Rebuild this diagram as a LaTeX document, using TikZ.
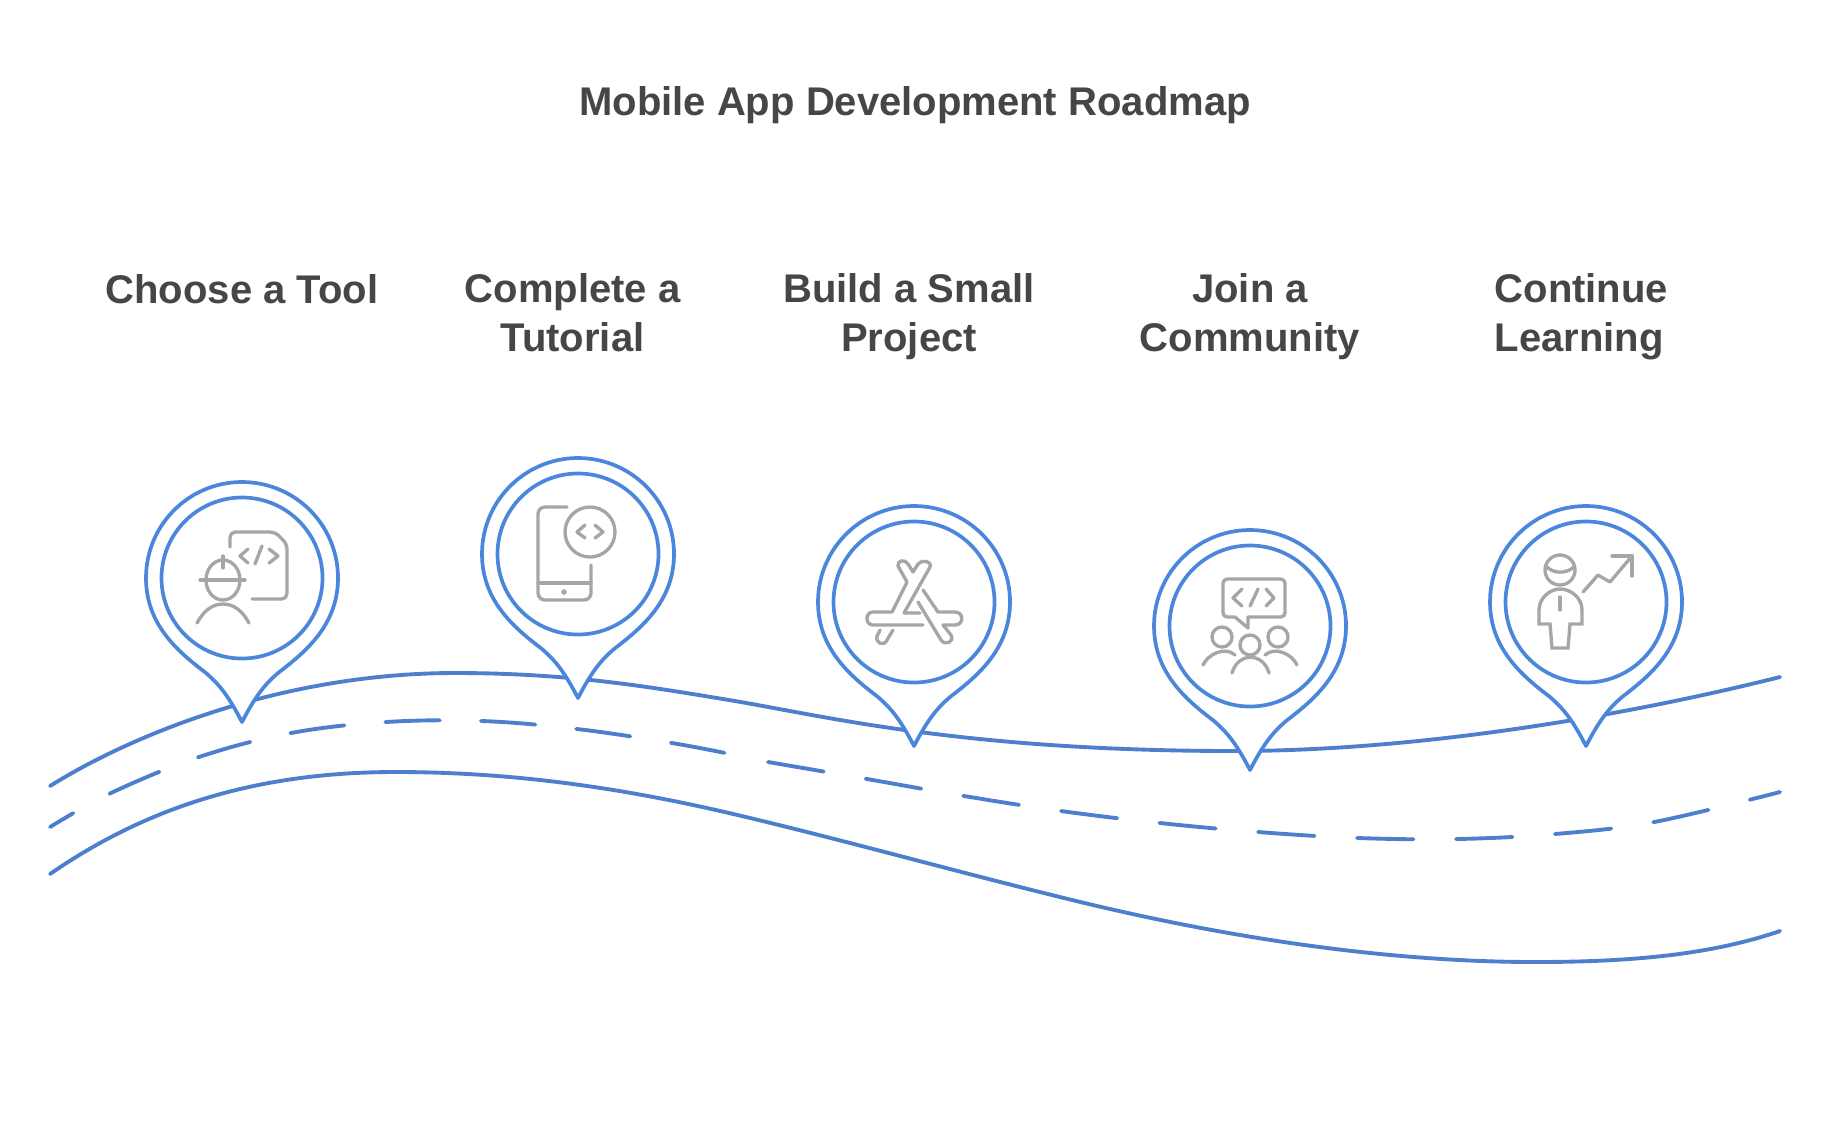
\documentclass[tikz,border=0pt]{standalone}
\usepackage{fontspec}
\setmainfont{Liberation Sans}
\usetikzlibrary{positioning}
\definecolor{pinblue}{HTML}{4A86DC}
\definecolor{roadblue}{HTML}{4E7FCE}
\definecolor{icongray}{HTML}{A6A6A6}
\definecolor{textgray}{HTML}{464646}
\tikzset{
  x=0.01cm, y=-0.01cm,
  title/.style={font=\bfseries\fontsize{11.38}{13.66}\selectfont, text=textgray, inner sep=0pt, anchor=base},
  label/.style={font=\bfseries\fontsize{11.38}{13.66}\selectfont, text=textgray, inner sep=0pt, align=center, anchor=base},
  road/.style={roadblue, line width=1.1pt, line cap=round},
  icon/.style={icongray, line width=0.95pt, line cap=round, line join=round},
  pin/.pic={
    \draw[pinblue, line width=1.05pt, line join=round, fill=white]
      (0,144) .. controls (-13,119) and (-22,107) .. (-36,95)
      .. controls (-62,75) and (-96,48) .. (-96,0)
      arc[start angle=180, end angle=0, x radius=96, y radius=-96]
      .. controls (96,48) and (62,75) .. (36,95)
      .. controls (22,107) and (13,119) .. (0,144) -- cycle;
    \draw[pinblue, line width=1.05pt] (0,0) circle[radius=80.5];
  },
  worker/.pic={
    \draw[icon, rounded corners=1.5pt] (-12,-31) -- (-12,-46) -- (33,-46) -- (45,-34) -- (45,21) -- (10,21);
    \draw[icon] (6,-29) -- (-2,-22) -- (6,-15);
    \draw[icon] (27,-29) -- (36,-22) -- (27,-15);
    \draw[icon] (13,-14) -- (20,-32);
    \draw[icon] (-19,2) circle[x radius=17, y radius=20];
    \draw[icon] (-42,2) -- (3,2);
    \draw[icon] (-19,-22) -- (-19,-10);
    \draw[icon] (-45,45) .. controls (-38,32) and (-29,26) .. (-19,26) .. controls (-9,26) and (0,32) .. (7,45);
  },
  phone/.pic={
    \draw[icon, rounded corners=2pt] (-11,-47) -- (-40,-47) -- (-40,46) -- (13,46) -- (13,11);
    \draw[icon] (-40,29) -- (13,29);
    \fill[icongray] (-14,38) circle[radius=2.8];
    \draw[icon] (12,-22) circle[radius=25];
    \draw[icon] (7,-29) -- (-1,-22) -- (7,-16);
    \draw[icon] (17,-29) -- (25,-22) -- (17,-16);
  },
  appstore/.pic={
    \draw[icon] (-1,-30) -- (-6,-38) .. controls (-9,-43) and (-17,-42) .. (-16,-36) -- (-7,-20) -- (-22,10) -- (-41,10)
      .. controls (-49,10) and (-49,23) .. (-41,23) -- (9,23);
    \draw[icon] (-1,-30) -- (4,-38) .. controls (8,-43) and (18,-41) .. (16,-35) -- (-10,11) -- (6,11);
    \draw[icon] (4,0) -- (27,38) .. controls (31,44) and (41,40) .. (37,33) -- (29,23) -- (41,23)
      .. controls (50,23) and (50,10) .. (41,10) -- (24,10) -- (9,-12);
    \draw[icon] (-34,28) -- (-37,34) .. controls (-39,41) and (-30,45) .. (-27,38) -- (-21,28);
  },
  community/.pic={
    \draw[icon, rounded corners=1.2pt] (-15,-9) -- (-27,-9) -- (-27,-47) -- (35,-47) -- (35,-9) -- (-2,-9);
    \draw[icon] (-15,-9) -- (-2,2) -- (-2,-9);
    \draw[icon] (-8,-37) -- (-17,-28) -- (-8,-20);
    \draw[icon] (16,-37) -- (24,-28) -- (16,-20);
    \draw[icon] (0,-20) -- (8,-37);
    \draw[icon] (-28,11) circle[radius=10];
    \draw[icon] (28,11) circle[radius=10];
    \draw[icon] (0,19) circle[radius=10];
    \draw[icon] (-47,39) .. controls (-42,28) and (-25,20) .. (-15,29);
    \draw[icon] (47,39) .. controls (42,28) and (25,20) .. (15,29);
    \draw[icon] (-18,47) .. controls (-12,26) and (13,26) .. (19,47);
  },
  growth/.pic={
    \draw[icon] (-26,-32) circle[radius=15];
    \draw[icon] (-40,-36) .. controls (-33,-28) and (-20,-28) .. (-12,-35);
    \draw[icon, line join=miter] (-36,22) -- (-47,22) -- (-47,8) .. controls (-47,-4) and (-36,-13) .. (-26,-13)
      .. controls (-15,-13) and (-4,-4) .. (-4,8) -- (-4,22) -- (-16,22) -- (-18,46) -- (-34,46) -- cycle;
    \draw[icon] (-26,-5) -- (-26,8);
    \draw[icon] (-3,-10) -- (12,-27) -- (24,-20) -- (46,-46);
    \draw[icon] (26,-46) -- (46,-46) -- (46,-26);
  },
}
\begin{document}
\begin{tikzpicture}
  \useasboundingbox (0,0) rectangle (1828,1133);

  \draw[road] (50,786) .. controls (140,730) and (290,673) .. (455,673)
    .. controls (570,673) and (650,687) .. (729,700)
    .. controls (820,715) and (960,751) .. (1235,751)
    .. controls (1400,751) and (1600,722) .. (1780,677);
  \draw[road, dash pattern=on 15.5pt off 11.7pt, dash phase=7.8pt] plot[smooth, tension=0.6] coordinates {(50,827) (111,793) (199,757) (291,733) (386,722) (482,721) (577,729) (672,743) (735,755)};
  \draw[road, dash pattern=on 16.07pt off 12.1pt] plot[smooth, tension=0.6] coordinates {(768,762) (867,779) (964,796) (1061,811) (1160,823) (1258,832) (1358,838) (1457,839) (1555,834) (1654,822) (1780,792)};
  \draw[road] (50,874) .. controls (150,805) and (260,772) .. (396,772)
    .. controls (520,772) and (630,790) .. (729,813)
    .. controls (840,839) and (950,870) .. (1060,897)
    .. controls (1200,932) and (1370,962) .. (1535,962)
    .. controls (1630,962) and (1710,955) .. (1780,931);

  \pic at (242,578) {pin};
  \pic at (578,554) {pin};
  \pic at (914,602) {pin};
  \pic at (1250,626) {pin};
  \pic at (1586,602) {pin};

  \pic at (242,578) {worker};
  \pic at (578,554) {phone};
  \pic at (914,602) {appstore};
  \pic at (1250,626) {community};
  \pic at (1586,602) {growth};

  \node[title] (roadmap) at (915,115) {Mobile App Development Roadmap};
  \node[label] (tool) at (242,303) {Choose a Tool};
  \node[label] (tutorial) at (572.5,351) {Complete a\\Tutorial};
  \node[label] (project) at (909,351) {Build a Small\\Project};
  \node[label] (join) at (1250,351) {Join a\\Community};
  \node[label, align=left, anchor=base west] (learn) at (1494,351) {Continue\\Learning};
\end{tikzpicture}
\end{document}
